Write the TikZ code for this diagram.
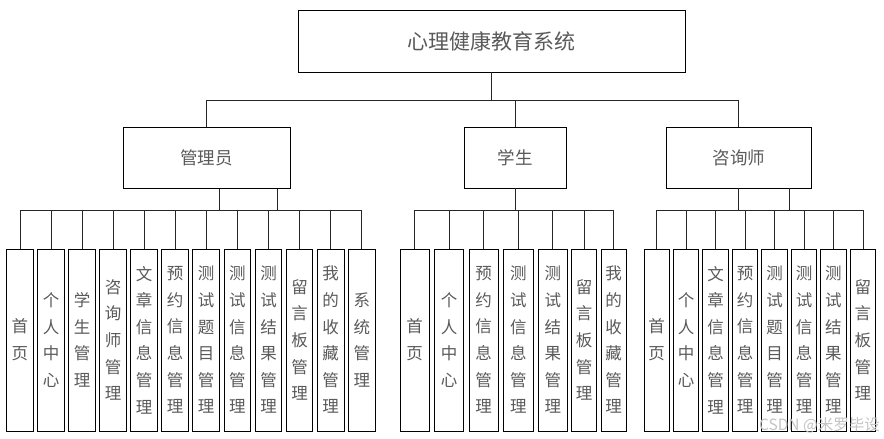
\documentclass[tikz,border=0pt]{standalone}
\usepackage{fontspec}
\setmainfont{Noto Sans CJK SC}
\definecolor{txt}{HTML}{5A5A5A}
\definecolor{wm}{HTML}{C4C4C4}
\tikzset{
  box/.style={draw=black, line width=0.9pt, fill=white, inner sep=0pt, text=txt},
  leafbox/.style={box, minimum height=182pt, align=center,
    font=\fontsize{16.5}{26.6}\selectfont},
  link/.style={draw=black!85, line width=0.8pt},
}
\newcommand{\leafnode}[4]{\node[leafbox, minimum width=#3pt] (#1) at (#2,340) {#4};}
\begin{document}
\begin{tikzpicture}[x=1pt,y=-1pt]
\useasboundingbox (0,0) rectangle (884,439);
% top
\node[box, minimum width=387.7pt, minimum height=62pt, font=\fontsize{21}{25}\selectfont] (top) at (491.85,41) {心理健康教育系统};
\node[box, minimum width=166.7pt, minimum height=61pt, font=\fontsize{17.5}{21}\selectfont] (adm) at (206.65,157.8) {管理员};
\node[box, minimum width=101.7pt, minimum height=61pt, font=\fontsize{17.5}{21}\selectfont] (stu) at (515.2,157.5) {学生};
\node[box, minimum width=145pt, minimum height=61pt, font=\fontsize{17.5}{21}\selectfont] (cou) at (738.8,157.5) {咨询师};
\coordinate (topbus) at (491.85,100);
\draw[link] (top.south) -- (topbus);
\draw[link] (adm.north) |- (topbus);
\draw[link] (stu.north) |- (topbus);
\draw[link] (cou.north) |- (topbus);
% admin leaves
\leafnode{a1}{20.0}{26.6}{首\\页}
\leafnode{a2}{51.0}{26.6}{个\\人\\中\\心}
\leafnode{a3}{82.0}{26.6}{学\\生\\管\\理}
\leafnode{a4}{113.0}{26.6}{咨\\询\\师\\管\\理}
\leafnode{a5}{144.0}{26.6}{文\\章\\信\\息\\管\\理}
\leafnode{a6}{175.0}{26.6}{预\\约\\信\\息\\管\\理}
\leafnode{a7}{206.2}{26.6}{测\\试\\题\\目\\管\\理}
\leafnode{a8}{237.3}{26.6}{测\\试\\信\\息\\管\\理}
\leafnode{a9}{268.5}{26.6}{测\\试\\结\\果\\管\\理}
\leafnode{a10}{299.6}{26.6}{留\\言\\板\\管\\理}
\leafnode{a11}{330.7}{26.6}{我\\的\\收\\藏\\管\\理}
\leafnode{a12}{361.8}{26.6}{系\\统\\管\\理}
\coordinate (admbus) at (219,210);
\coordinate (admbus2) at (277.3,210);
\draw[link] (admbus) -- (admbus |- adm.south);
\draw[link] (admbus2) -- (admbus2 |- adm.south);
\foreach \n in {a1,a2,a3,a4,a5,a6,a7,a8,a9,a10,a11,a12}
  \draw[link] (\n.north) |- (admbus);
% student leaves
\leafnode{s1}{414.5}{29}{首\\页}
\leafnode{s2}{449.0}{29.4}{个\\人\\中\\心}
\leafnode{s3}{483.7}{29.3}{预\\约\\信\\息\\管\\理}
\leafnode{s4}{518.4}{29.3}{测\\试\\信\\息\\管\\理}
\leafnode{s5}{552.8}{29}{测\\试\\结\\果\\管\\理}
\leafnode{s6}{584.2}{25}{留\\言\\板\\管\\理}
\leafnode{s7}{613.7}{25.3}{我\\的\\收\\藏\\管\\理}
\coordinate (stubus) at (515.2,210);
\draw[link] (stu.south) -- (stubus);
\foreach \n in {s1,s2,s3,s4,s5,s6,s7}
  \draw[link] (\n.north) |- (stubus);
% counselor leaves
\leafnode{c1}{656.7}{25.4}{首\\页}
\leafnode{c2}{686.1}{25.4}{个\\人\\中\\心}
\leafnode{c3}{715.6}{25.4}{文\\章\\信\\息\\管\\理}
\leafnode{c4}{745.0}{25.4}{预\\约\\信\\息\\管\\理}
\leafnode{c5}{774.5}{25.4}{测\\试\\题\\目\\管\\理}
\leafnode{c6}{804.0}{25.4}{测\\试\\信\\息\\管\\理}
\leafnode{c7}{833.4}{25.4}{测\\试\\结\\果\\管\\理}
\leafnode{c8}{862.9}{25.4}{留\\言\\板\\管\\理}
\coordinate (coubus) at (738.8,210);
\coordinate (coubus2) at (789,210);
\draw[link] (cou.south) -- (coubus);
\draw[link] (coubus2) -- (coubus2 |- cou.south);
\foreach \n in {c1,c2,c3,c4,c5,c6,c7,c8}
  \draw[link] (\n.north) |- (coubus);
% watermark
\node[text=wm, font=\fontsize{15.5}{18}\selectfont, inner sep=0pt, anchor=east] (wmk) at (880,425) {CSDN @米罗毕设};
\end{tikzpicture}
\end{document}
